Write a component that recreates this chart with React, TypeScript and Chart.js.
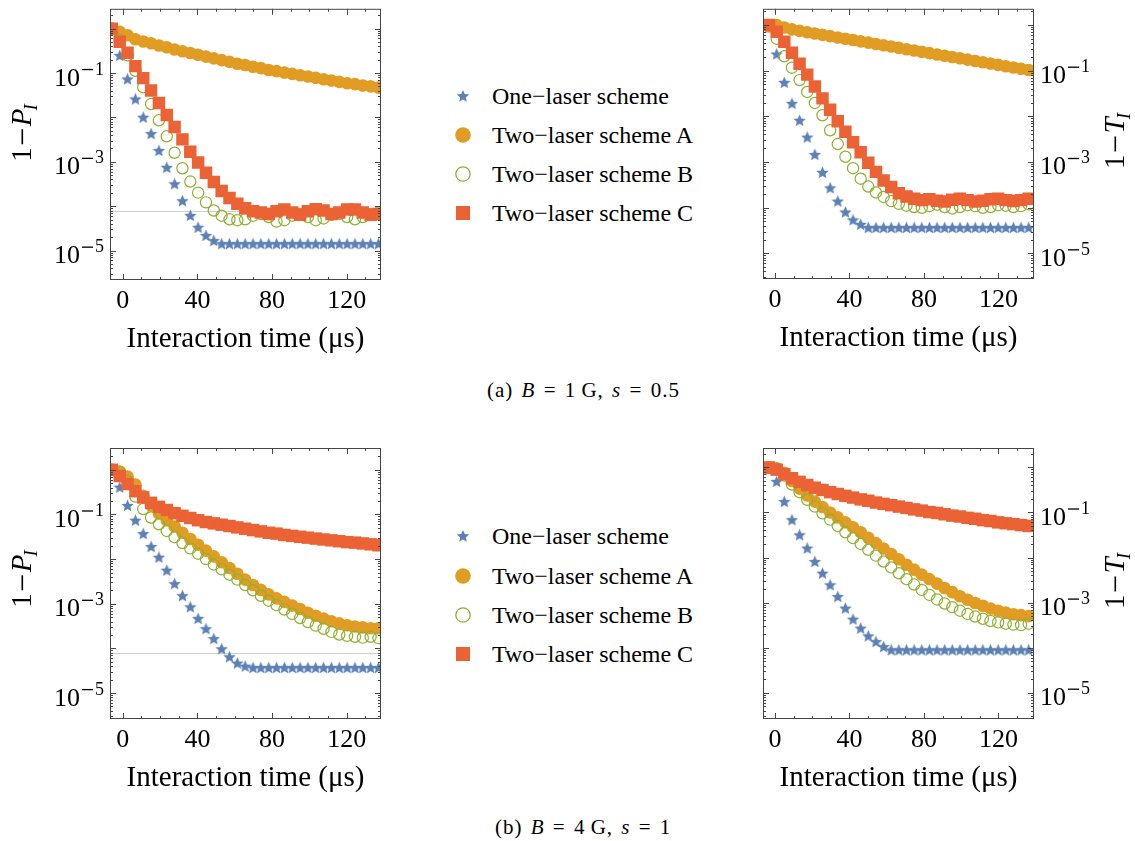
import React, { useEffect, useRef } from 'react';
import { Chart, registerables } from 'chart.js';

Chart.register(...registerables);

// ---------------- data ----------------
const TIME_LEFT = [-5.8, -1.6, 2.6, 6.8, 11.0, 15.2, 19.4, 23.6, 27.8, 32.0, 36.2, 40.4, 44.6, 48.8, 53.0, 57.2, 61.4, 65.6, 69.8, 74.0, 78.2, 82.4, 86.6, 90.8, 95.0, 99.2, 103.4, 107.6, 111.8, 116.0, 120.2, 124.4, 128.6, 132.8, 137.0];
const TIME_RIGHT = [-3.2, 0.9, 5.0, 9.1, 13.2, 17.3, 21.4, 25.5, 29.6, 33.7, 37.8, 41.9, 46.0, 50.1, 54.2, 58.3, 62.4, 66.5, 70.6, 74.7, 78.8, 82.9, 87.0, 91.1, 95.2, 99.3, 103.4, 107.5, 111.6, 115.7, 119.8, 123.9, 128.0, 132.1, 136.2];

// (a) B = 1 G, s = 0.5 — population, 1 - P_I
const A_P_ONE = [0.89, 0.248, 0.0733, 0.026, 0.0101, 0.00432, 0.0018, 7.5e-4, 3.2e-4, 1.33e-4, 6.2e-5, 3.35e-5, 2.2e-5, 1.68e-5, 1.43e-5, 1.43e-5, 1.43e-5, 1.43e-5, 1.43e-5, 1.43e-5, 1.43e-5, 1.43e-5, 1.43e-5, 1.43e-5, 1.43e-5, 1.43e-5, 1.43e-5, 1.43e-5, 1.43e-5, 1.43e-5, 1.43e-5, 1.43e-5, 1.43e-5, 1.43e-5, 1.43e-5];
const A_P_TWO_A = [1.0, 0.851, 0.708, 0.575, 0.513, 0.468, 0.417, 0.38, 0.339, 0.309, 0.282, 0.257, 0.234, 0.214, 0.195, 0.178, 0.162, 0.151, 0.138, 0.129, 0.117, 0.11, 0.102, 0.0955, 0.0891, 0.0832, 0.0776, 0.0724, 0.0676, 0.0631, 0.0589, 0.0562, 0.0525, 0.0501, 0.0468];
const A_P_TWO_B = [1.0, 0.56, 0.25, 0.112, 0.0479, 0.02, 0.0086, 0.00376, 0.0016, 7.16e-4, 3.59e-4, 2.02e-4, 1.22e-4, 8.0e-5, 6.1e-5, 5.07e-5, 4.84e-5, 5.07e-5, 6.1e-5, 6.7e-5, 5.7e-5, 4.5e-5, 4.84e-5, 6.1e-5, 6.7e-5, 5.7e-5, 4.84e-5, 5.3e-5, 6.4e-5, 6.7e-5, 5.7e-5, 5.07e-5, 5.7e-5, 6.7e-5, 7.2e-5];
const A_P_TWO_C = [1.0, 0.507, 0.285, 0.143, 0.0767, 0.0403, 0.0211, 0.01135, 0.0061, 0.0032, 0.00168, 9.66e-4, 5.69e-4, 3.5e-4, 2.21e-4, 1.53e-4, 1.135e-4, 9.0e-5, 7.7e-5, 7.2e-5, 6.7e-5, 7.7e-5, 8.4e-5, 7.2e-5, 6.4e-5, 7.7e-5, 8.6e-5, 8.0e-5, 6.7e-5, 7.2e-5, 8.4e-5, 8.4e-5, 7.2e-5, 6.4e-5, 6.7e-5];

// (a) — 1 - T_I
const A_T_ONE = [0.9, 0.231, 0.0553, 0.0192, 0.00818, 0.00349, 0.00146, 5.93e-4, 2.71e-4, 1.39e-4, 8.0e-5, 5.4e-5, 4.3e-5, 3.66e-5, 3.66e-5, 3.66e-5, 3.66e-5, 3.66e-5, 3.66e-5, 3.66e-5, 3.66e-5, 3.66e-5, 3.66e-5, 3.66e-5, 3.66e-5, 3.66e-5, 3.66e-5, 3.66e-5, 3.66e-5, 3.66e-5, 3.66e-5, 3.66e-5, 3.66e-5, 3.66e-5, 3.66e-5];
const A_T_TWO_A = [0.93, 1.0, 0.88, 0.8, 0.741, 0.695, 0.65, 0.608, 0.57, 0.533, 0.5, 0.468, 0.438, 0.41, 0.384, 0.36, 0.337, 0.315, 0.295, 0.276, 0.259, 0.242, 0.226, 0.212, 0.199, 0.186, 0.174, 0.163, 0.153, 0.143, 0.134, 0.125, 0.117, 0.11, 0.103];
const A_T_TWO_B = [1.0, 0.5, 0.206, 0.116, 0.0621, 0.0341, 0.0196, 0.01054, 0.00493, 0.00247, 0.0013, 7.3e-4, 4.3e-4, 2.9e-4, 2.15e-4, 1.71e-4, 1.39e-4, 1.21e-4, 1.1e-4, 1.03e-4, 9.9e-5, 1.08e-4, 1.16e-4, 1.03e-4, 9.6e-5, 1.03e-4, 1.13e-4, 1.08e-4, 9.9e-5, 1.03e-4, 1.13e-4, 1.1e-4, 1.03e-4, 1.08e-4, 1.18e-4];
const A_T_TWO_C = [1.0, 0.713, 0.43, 0.247, 0.142, 0.0818, 0.045, 0.0247, 0.0139, 0.00782, 0.0046, 0.00271, 0.00163, 9.6e-4, 6.07e-4, 3.92e-4, 2.84e-4, 2.06e-4, 1.75e-4, 1.56e-4, 1.46e-4, 1.52e-4, 1.42e-4, 1.36e-4, 1.49e-4, 1.56e-4, 1.46e-4, 1.36e-4, 1.42e-4, 1.52e-4, 1.56e-4, 1.46e-4, 1.39e-4, 1.46e-4, 1.56e-4];

// (b) B = 4 G, s = 1 — 1 - P_I
const B_P_ONE = [0.9, 0.408, 0.159, 0.0743, 0.0372, 0.0191, 0.011, 0.00564, 0.00282, 0.00152, 8.53e-4, 4.69e-4, 2.76e-4, 1.66e-4, 9.8e-5, 6.5e-5, 4.69e-5, 4.0e-5, 3.72e-5, 3.72e-5, 3.72e-5, 3.72e-5, 3.72e-5, 3.72e-5, 3.72e-5, 3.72e-5, 3.72e-5, 3.72e-5, 3.72e-5, 3.72e-5, 3.72e-5, 3.72e-5, 3.72e-5, 3.72e-5, 3.72e-5];
const B_P_TWO_A = [1.0, 0.912, 0.708, 0.468, 0.263, 0.158, 0.105, 0.0741, 0.0537, 0.0389, 0.0282, 0.0209, 0.0155, 0.0115, 0.00851, 0.00631, 0.00468, 0.00347, 0.00263, 0.00204, 0.00162, 0.00132, 0.0011, 9.1e-4, 7.6e-4, 6.3e-4, 5.37e-4, 4.68e-4, 4.07e-4, 3.63e-4, 3.31e-4, 3.09e-4, 2.95e-4, 2.82e-4, 2.82e-4];
const B_P_TWO_B = [1.0, 0.891, 0.562, 0.251, 0.132, 0.0851, 0.0603, 0.0427, 0.0309, 0.0229, 0.0174, 0.0132, 0.01, 0.00759, 0.00589, 0.00447, 0.00347, 0.00263, 0.002, 0.00151, 0.00117, 9.3e-4, 7.4e-4, 5.9e-4, 4.79e-4, 3.89e-4, 3.24e-4, 2.75e-4, 2.34e-4, 2.04e-4, 1.91e-4, 1.82e-4, 1.74e-4, 1.82e-4, 1.7e-4];
const B_P_TWO_C = [1.0, 0.724, 0.479, 0.331, 0.24, 0.182, 0.148, 0.126, 0.107, 0.0933, 0.0832, 0.0741, 0.0676, 0.0631, 0.0589, 0.055, 0.0513, 0.0479, 0.0447, 0.0417, 0.0389, 0.0372, 0.0347, 0.0331, 0.0316, 0.0302, 0.0288, 0.0275, 0.0263, 0.0251, 0.024, 0.0234, 0.0224, 0.0214, 0.0204];

// (b) — 1 - T_I
const B_T_ONE = [0.9, 0.489, 0.175, 0.0689, 0.0319, 0.0162, 0.00815, 0.0045, 0.00247, 0.00136, 7.5e-4, 4.28e-4, 2.7e-4, 1.82e-4, 1.36e-4, 1.05e-4, 8.9e-5, 8.9e-5, 8.9e-5, 8.9e-5, 8.9e-5, 8.9e-5, 8.9e-5, 8.9e-5, 8.9e-5, 8.9e-5, 8.9e-5, 8.9e-5, 8.9e-5, 8.9e-5, 8.9e-5, 8.9e-5, 8.9e-5, 8.9e-5, 8.9e-5];
const B_T_TWO_A = [1.0, 0.955, 0.759, 0.501, 0.339, 0.24, 0.174, 0.132, 0.1, 0.0776, 0.0603, 0.0468, 0.0363, 0.0275, 0.0209, 0.0158, 0.012, 0.00912, 0.00692, 0.00537, 0.00417, 0.00331, 0.00263, 0.00209, 0.0017, 0.00138, 0.00115, 9.8e-4, 8.5e-4, 7.4e-4, 6.6e-4, 6.0e-4, 5.5e-4, 5.25e-4, 5.0e-4];
const B_T_TWO_B = [1.0, 0.933, 0.661, 0.417, 0.282, 0.191, 0.135, 0.0955, 0.0692, 0.0501, 0.0363, 0.0269, 0.02, 0.0148, 0.011, 0.00813, 0.00603, 0.00447, 0.00331, 0.00251, 0.00191, 0.00148, 0.00117, 9.5e-4, 7.9e-4, 6.6e-4, 5.6e-4, 4.9e-4, 4.37e-4, 3.89e-4, 3.63e-4, 3.39e-4, 3.24e-4, 3.16e-4, 3.39e-4];
const B_T_TWO_C = [1.0, 0.891, 0.708, 0.575, 0.479, 0.407, 0.355, 0.316, 0.282, 0.257, 0.234, 0.214, 0.195, 0.182, 0.166, 0.155, 0.145, 0.135, 0.126, 0.117, 0.11, 0.102, 0.0977, 0.0912, 0.0851, 0.0813, 0.0759, 0.0724, 0.0676, 0.0646, 0.0603, 0.0575, 0.055, 0.0525, 0.0501];

const REF_LEVEL = 8e-5;
const X_TICK_LABELS = [0, 40, 80, 120];
const X_MINOR_STEP = 10;
const Y_LABEL_EXPONENTS = [-1, -3, -5];
const SERIES_NAMES = ['One\u2212laser scheme', 'Two\u2212laser scheme A', 'Two\u2212laser scheme B', 'Two\u2212laser scheme C'];
const X_TITLE = 'Interaction time (\u03bcs)';
const CAPTION_A = ['(a) ', 'B', ' = 1\u2009G, ', 's', ' = 0.5'];
const CAPTION_B = ['(b) ', 'B', ' = 4\u2009G, ', 's', ' = 1'];

// ---------------- styles ----------------
const C_BLUE = '#5E81B5';
const C_ORANGE = '#E19C24';
const C_GREEN = '#8FB032';
const C_RED = '#EB6235';
const FRAME = '#454545';
const SERIF = '"Liberation Serif", "Times New Roman", serif';

type Panel = {
  key: string;
  box: { x: number; y: number; w: number; h: number };
  area: { l: number; t: number; r: number; b: number };
  side: 'left' | 'right';
  letter: string;
  xRange: [number, number];
  yExp: [number, number];
  times: number[];
  series: number[][];
  refLine: boolean;
  titleY: number;
};

const PANELS: Panel[] = [
  { key: 'aL', box: { x: 0, y: 0, w: 400, h: 360 }, area: { l: 110, t: 8, r: 381, b: 280 }, side: 'left', letter: 'P', xRange: [-6.8, 138.35], yExp: [-5.662, 0.446], times: TIME_LEFT, series: [A_P_ONE, A_P_TWO_A, A_P_TWO_B, A_P_TWO_C], refLine: true, titleY: 132 },
  { key: 'aR', box: { x: 720, y: 0, w: 415, h: 360 }, area: { l: 763, t: 8, r: 1034, b: 279 }, side: 'right', letter: 'T', xRange: [-6.44, 139.06], yExp: [-5.563, 0.354], times: TIME_RIGHT, series: [A_T_ONE, A_T_TWO_A, A_T_TWO_B, A_T_TWO_C], refLine: false, titleY: 140 },
  { key: 'bL', box: { x: 0, y: 420, w: 400, h: 380 }, area: { l: 110, t: 448, r: 381, b: 719 }, side: 'left', letter: 'P', xRange: [-6.8, 138.35], yExp: [-5.581, 0.488], times: TIME_LEFT, series: [B_P_ONE, B_P_TWO_A, B_P_TWO_B, B_P_TWO_C], refLine: true, titleY: 578 },
  { key: 'bR', box: { x: 720, y: 420, w: 415, h: 380 }, area: { l: 763, t: 448, r: 1034, b: 719 }, side: 'right', letter: 'T', xRange: [-6.44, 139.06], yExp: [-5.585, 0.431], times: TIME_RIGHT, series: [B_T_ONE, B_T_TWO_A, B_T_TWO_B, B_T_TWO_C], refLine: false, titleY: 580 },
];

function makeStar(color: string, size: number) {
  const c = document.createElement('canvas');
  c.width = size;
  c.height = size;
  const g = c.getContext('2d')!;
  const cx = size / 2, cy = size / 2 + 0.6, R = size / 2, r = R * 0.46;
  g.beginPath();
  for (let i = 0; i < 10; i++) {
    const ang = -Math.PI / 2 + (i * Math.PI) / 5;
    const rad = i % 2 === 0 ? R : r;
    g.lineTo(cx + rad * Math.cos(ang), cy + rad * Math.sin(ang));
  }
  g.closePath();
  g.fillStyle = color;
  g.fill();
  return c;
}

function drawPow10(ctx: CanvasRenderingContext2D, exp: number, x: number, yTick: number, align: 'left' | 'right') {
  const base = '10';
  const digit = String(Math.abs(exp));
  const mainFont = `26px ${SERIF}`;
  const supFont = `18px ${SERIF}`;
  ctx.font = mainFont;
  const w1 = ctx.measureText(base).width;
  ctx.font = supFont;
  const wd = ctx.measureText(digit).width;
  const minusW = 11;
  const total = w1 + 2 + minusW + 2 + wd;
  const x0 = align === 'right' ? x - total : x;
  const baseY = yTick + 12.5;
  ctx.textAlign = 'left';
  ctx.textBaseline = 'alphabetic';
  ctx.font = mainFont;
  ctx.fillText(base, x0, baseY);
  const supBase = baseY - 11;
  ctx.fillRect(x0 + w1 + 2, supBase - 5.6, minusW, 1.3);
  ctx.font = supFont;
  ctx.fillText(digit, x0 + w1 + 2 + minusW + 2, supBase);
}

function drawYTitle(ctx: CanvasRenderingContext2D, letter: string, xBase: number, yCenter: number) {
  const mainFont = `29px ${SERIF}`;
  const itFont = `italic 29px ${SERIF}`;
  const subFont = `italic 19px ${SERIF}`;
  ctx.font = mainFont;
  const w1 = ctx.measureText('1').width;
  const minusW = 15;
  ctx.font = itFont;
  const wl = ctx.measureText(letter).width;
  ctx.font = subFont;
  const ws = ctx.measureText('I').width;
  const gap = 3;
  const total = w1 + gap + minusW + gap + wl + ws;
  ctx.save();
  ctx.translate(xBase, yCenter);
  ctx.rotate(-Math.PI / 2);
  ctx.textAlign = 'left';
  ctx.textBaseline = 'alphabetic';
  let cx = -total / 2;
  ctx.font = mainFont;
  ctx.fillText('1', cx, 0);
  cx += w1 + gap;
  ctx.fillRect(cx, -9.5, minusW, 1.6);
  cx += minusW + gap;
  ctx.font = itFont;
  ctx.fillText(letter, cx, 0);
  cx += wl - 2;
  ctx.font = subFont;
  ctx.fillText('I', cx, 6);
  ctx.restore();
}

function makePlugin(p: Panel) {
  return {
    id: 'frame_' + p.key,
    beforeDatasetsDraw(chart: any) {
      if (!p.refLine) return;
      const { ctx, chartArea: a } = chart;
      const y = Math.round(chart.scales.y.getPixelForValue(REF_LEVEL)) + 0.5;
      ctx.save();
      ctx.strokeStyle = '#cfcfcf';
      ctx.lineWidth = 1;
      ctx.beginPath();
      ctx.moveTo(a.left, y);
      ctx.lineTo(a.right, y);
      ctx.stroke();
      ctx.restore();
    },
    afterDraw(chart: any) {
      const { ctx, chartArea: a } = chart;
      const xs = chart.scales.x;
      const ys = chart.scales.y;
      ctx.save();
      ctx.strokeStyle = FRAME;
      ctx.fillStyle = '#000';
      ctx.lineWidth = 1;
      ctx.strokeRect(a.left + 0.5, a.top + 0.5, a.right - a.left - 1, a.bottom - a.top - 1);
      ctx.beginPath();
      const e0 = Math.floor(p.yExp[0]);
      const e1 = Math.ceil(p.yExp[1]);
      for (let e = e0; e <= e1; e++) {
        for (let m = 1; m <= 9; m++) {
          const v = m * Math.pow(10, e);
          const lv = Math.log10(v);
          if (lv < p.yExp[0] || lv > p.yExp[1]) continue;
          const y = Math.round(ys.getPixelForValue(v)) + 0.5;
          const len = m === 1 ? 6 : 3;
          ctx.moveTo(a.left, y);
          ctx.lineTo(a.left + len, y);
          ctx.moveTo(a.right, y);
          ctx.lineTo(a.right - len, y);
        }
      }
      const start = Math.ceil(p.xRange[0] / X_MINOR_STEP) * X_MINOR_STEP;
      for (let t = start; t <= p.xRange[1]; t += X_MINOR_STEP) {
        const x = Math.round(xs.getPixelForValue(t)) + 0.5;
        const major = t % 40 === 0;
        const len = major ? 6 : 3;
        ctx.moveTo(x, a.bottom);
        ctx.lineTo(x, a.bottom - len);
        ctx.moveTo(x, a.top);
        ctx.lineTo(x, a.top + len);
      }
      ctx.stroke();

      ctx.font = `26px ${SERIF}`;
      ctx.textAlign = 'center';
      ctx.textBaseline = 'alphabetic';
      X_TICK_LABELS.forEach((t) => {
        ctx.fillText(String(t), xs.getPixelForValue(t), a.bottom + 27.5);
      });
      ctx.font = `29px ${SERIF}`;
      ctx.fillText(X_TITLE, (a.left + a.right) / 2, a.bottom + 67);

      Y_LABEL_EXPONENTS.forEach((e) => {
        const y = ys.getPixelForValue(Math.pow(10, e));
        if (p.side === 'left') drawPow10(ctx, e, a.left - 6, y, 'right');
        else drawPow10(ctx, e, a.right + 6, y, 'left');
      });
      const ty = p.titleY - p.box.y;
      if (p.side === 'left') drawYTitle(ctx, p.letter, a.left - 79, ty);
      else drawYTitle(ctx, p.letter, a.right + 90, ty);
      ctx.restore();
    },
  };
}

function PanelChart({ p }: { p: Panel }) {
  const ref = useRef<HTMLCanvasElement | null>(null);
  useEffect(() => {
    if (!ref.current) return;
    const star = makeStar(C_BLUE, 13);
    const toPts = (vals: number[]) => p.times.map((t, i) => ({ x: t, y: vals[i] }));
    const datasets = [
      { label: SERIES_NAMES[0], data: toPts(p.series[0]), pointStyle: star, pointRadius: 6, backgroundColor: C_BLUE, borderColor: C_BLUE, borderWidth: 0, order: 3, clip: 0 },
      { label: SERIES_NAMES[1], data: toPts(p.series[1]), pointStyle: 'circle', pointRadius: 6.3, backgroundColor: C_ORANGE, borderColor: C_ORANGE, borderWidth: 0, order: 2, clip: 0 },
      { label: SERIES_NAMES[2], data: toPts(p.series[2]), pointStyle: 'circle', pointRadius: 5.6, backgroundColor: 'rgba(0,0,0,0)', borderColor: C_GREEN, borderWidth: 1.2, order: 1, clip: 0 },
      { label: SERIES_NAMES[3], data: toPts(p.series[3]), pointStyle: 'rect', pointRadius: 8.8, backgroundColor: C_RED, borderColor: C_RED, borderWidth: 0, order: 0, clip: 0 },
    ];
    const chart = new Chart(ref.current, {
      type: 'scatter',
      data: { datasets } as any,
      options: {
        animation: false,
        responsive: false,
        maintainAspectRatio: false,
        events: [],
        layout: {
          padding: {
            left: p.area.l - p.box.x,
            top: p.area.t - p.box.y,
            right: p.box.x + p.box.w - p.area.r,
            bottom: p.box.y + p.box.h - p.area.b,
          },
        },
        plugins: { legend: { display: false }, tooltip: { enabled: false }, title: { display: false } },
        scales: {
          x: { type: 'linear', min: p.xRange[0], max: p.xRange[1], display: false },
          y: { type: 'logarithmic', min: Math.pow(10, p.yExp[0]), max: Math.pow(10, p.yExp[1]), display: false },
        },
      } as any,
      plugins: [makePlugin(p)],
    });
    return () => chart.destroy();
  }, [p]);
  return (
    <canvas
      ref={ref}
      width={p.box.w}
      height={p.box.h}
      style={{ position: 'absolute', left: p.box.x, top: p.box.y, width: p.box.w, height: p.box.h }}
    />
  );
}

function Marker({ i }: { i: number }) {
  if (i === 0) {
    const pts: string[] = [];
    for (let k = 0; k < 10; k++) {
      const ang = -Math.PI / 2 + (k * Math.PI) / 5;
      const rad = k % 2 === 0 ? 6.5 : 3.0;
      pts.push(`${(9 + rad * Math.cos(ang)).toFixed(2)},${(9.5 + rad * Math.sin(ang)).toFixed(2)}`);
    }
    return (
      <svg width={18} height={18}>
        <polygon points={pts.join(' ')} fill={C_BLUE} />
      </svg>
    );
  }
  if (i === 1)
    return (
      <svg width={18} height={18}>
        <circle cx={9} cy={9} r={7.8} fill={C_ORANGE} />
      </svg>
    );
  if (i === 2)
    return (
      <svg width={18} height={18}>
        <circle cx={9} cy={9} r={7.2} fill="none" stroke={C_GREEN} strokeWidth={1.3} />
      </svg>
    );
  return (
    <svg width={18} height={18}>
      <rect x={2} y={2} width={14} height={14} fill={C_RED} />
    </svg>
  );
}

function Legend({ rows }: { rows: number[] }) {
  return (
    <>
      {SERIES_NAMES.map((name, i) => (
        <div key={name} style={{ position: 'absolute', left: 454, top: rows[i] - 15, height: 30, display: 'flex', alignItems: 'center', whiteSpace: 'nowrap' }}>
          <div style={{ width: 18, height: 18, display: 'flex' }}>
            <Marker i={i} />
          </div>
          <span style={{ marginLeft: 20, fontFamily: SERIF, fontSize: 24, lineHeight: '30px', color: '#000' }}>{name}</span>
        </div>
      ))}
    </>
  );
}

function Caption({ parts, left, cy }: { parts: string[]; left: number; cy: number }) {
  return (
    <div style={{ position: 'absolute', left, top: cy - 13, height: 26, lineHeight: '26px', fontFamily: SERIF, fontSize: 21, letterSpacing: '1px', wordSpacing: '2px', whiteSpace: 'pre', color: '#000' }}>
      {parts.map((t, i) => (i % 2 === 1 ? <i key={i}>{t}</i> : <span key={i}>{t}</span>))}
    </div>
  );
}

export default function App() {
  return (
    <div style={{ position: 'absolute', left: 0, top: 0, width: 1135, height: 841, background: '#fff', overflow: 'hidden' }}>
      {PANELS.map((p) => (
        <PanelChart key={p.key} p={p} />
      ))}
      <Legend rows={[96, 135, 174, 213]} />
      <Legend rows={[536, 576, 615, 654]} />
      <Caption parts={CAPTION_A} left={487} cy={390} />
      <Caption parts={CAPTION_B} left={495} cy={827} />
    </div>
  );
}
